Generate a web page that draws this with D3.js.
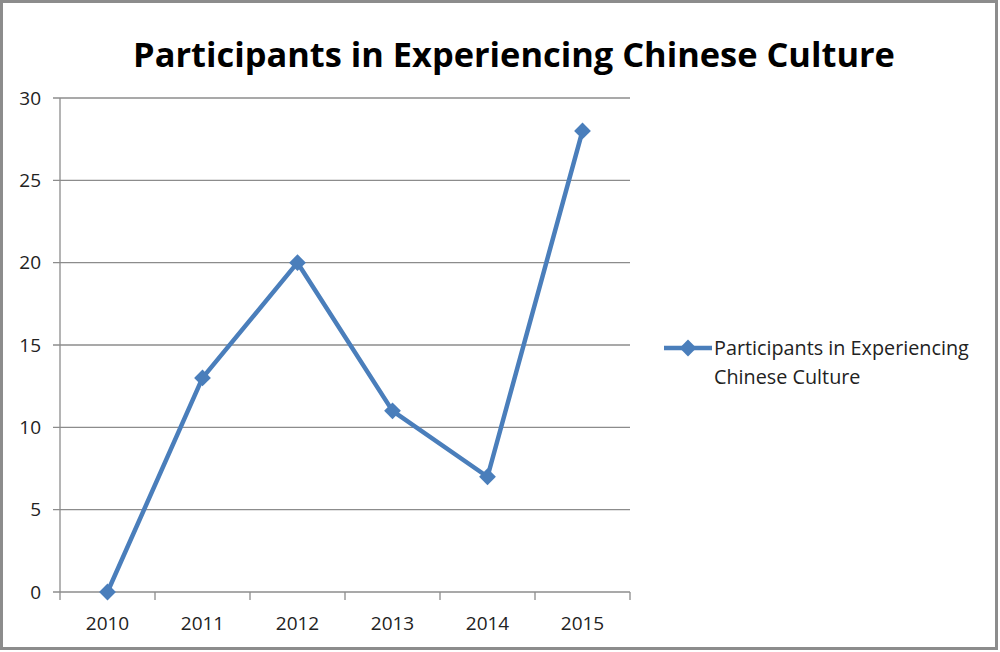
<!DOCTYPE html>
<html>
<head>
<meta charset="utf-8">
<script src="https://cdn.jsdelivr.net/npm/d3@7"></script>
<style>
  body { margin: 0; background: #fff; }
  svg { display: block; font-family: "Open Sans", "DejaVu Sans", sans-serif; }
</style>
</head>
<body>
<div id="chart"></div>
<script>
var years = ["2010", "2011", "2012", "2013", "2014", "2015"];
var participants = [0, 13, 20, 11, 7, 28];
var yTicks = [0, 5, 10, 15, 20, 25, 30];
var seriesName = "Participants in Experiencing Chinese Culture";

var width = 1000,
  height = 652;
var plotLeft = 60, plotRight = 630, plotTop = 98, plotBottom = 592;

var svg = d3.select("#chart")
  .append("svg")
  .attr("width", width)
  .attr("height", height);

// outer frame
svg.append("rect")
  .attr("x", 1.5).attr("y", 1.5)
  .attr("width", 995).attr("height", 647)
  .attr("fill", "#fff")
  .attr("stroke", "#8c8c8c")
  .attr("stroke-width", 3);

var x = d3.scaleBand()
  .domain(years)
  .range([plotLeft, plotRight]);

var y = d3.scaleLinear()
  .domain([0, 30])
  .range([plotBottom, plotTop]);

// gridlines
svg.append("g")
  .selectAll("line")
  .data(yTicks)
  .enter().append("line")
  .attr("x1", plotLeft - 7)
  .attr("x2", plotRight)
  .attr("y1", function (d) { return y(d); })
  .attr("y2", function (d) { return y(d); })
  .attr("stroke", "#8c8c8c")
  .attr("stroke-width", 1.3);

// y axis line
svg.append("line")
  .attr("x1", plotLeft).attr("x2", plotLeft)
  .attr("y1", plotTop).attr("y2", plotBottom)
  .attr("stroke", "#8c8c8c")
  .attr("stroke-width", 1.3);

// y labels
svg.append("g")
  .selectAll("text")
  .data(yTicks)
  .enter().append("text")
  .attr("x", 41)
  .attr("y", function (d) { return y(d); })
  .attr("dy", "0.35em")
  .attr("text-anchor", "end")
  .attr("font-size", 19)
  .attr("fill", "#222")
  .text(function (d) { return d; });

// x ticks
var xEdges = years.map(function (d) { return x(d); }).concat([plotRight]);
svg.append("g")
  .selectAll("line")
  .data(xEdges)
  .enter().append("line")
  .attr("x1", function (d) { return d; })
  .attr("x2", function (d) { return d; })
  .attr("y1", plotBottom)
  .attr("y2", plotBottom + 8)
  .attr("stroke", "#8c8c8c")
  .attr("stroke-width", 1.3);

svg.append("g")
  .selectAll("text")
  .data(years)
  .enter().append("text")
  .attr("x", function (d) { return x(d) + x.bandwidth() / 2; })
  .attr("y", 623)
  .attr("dy", "0.35em")
  .attr("text-anchor", "middle")
  .attr("font-size", 19)
  .attr("fill", "#222")
  .text(function (d) { return d; });

// series line
var pts = years.map(function (d, i) { return [x(d) + x.bandwidth() / 2, y(participants[i])]; });

svg.append("path")
  .attr("d", d3.line()(pts))
  .attr("fill", "none")
  .attr("stroke", "#4a7ebb")
  .attr("stroke-width", 4.5)
  .attr("stroke-linejoin", "round");

var diamond = d3.symbol().type(d3.symbolDiamond2).size(180);
svg.append("g")
  .selectAll("path")
  .data(pts)
  .enter().append("path")
  .attr("transform", function (d) { return "translate(" + d[0] + "," + d[1] + ")"; })
  .attr("d", diamond)
  .attr("fill", "#4a7ebb");

// title
svg.append("text")
  .attr("x", 514)
  .attr("y", 55)
  .attr("dy", "0.35em")
  .attr("text-anchor", "middle")
  .attr("font-size", 34.4)
  .attr("font-weight", "bold")
  .attr("fill", "#000")
  .text(seriesName);

// legend
svg.append("line")
  .attr("x1", 664).attr("x2", 712)
  .attr("y1", 348).attr("y2", 348)
  .attr("stroke", "#4a7ebb")
  .attr("stroke-width", 4.5);
svg.append("path")
  .attr("transform", "translate(688,348)")
  .attr("d", diamond)
  .attr("fill", "#4a7ebb");

var leg = svg.append("text")
  .attr("font-size", 19.8)
  .attr("fill", "#222");
leg.append("tspan").attr("x", 714).attr("y", 348).attr("dy", "0.35em").text("Participants in Experiencing");
leg.append("tspan").attr("x", 714).attr("y", 377).attr("dy", "0.35em").text("Chinese Culture");
</script>
</body>
</html>
